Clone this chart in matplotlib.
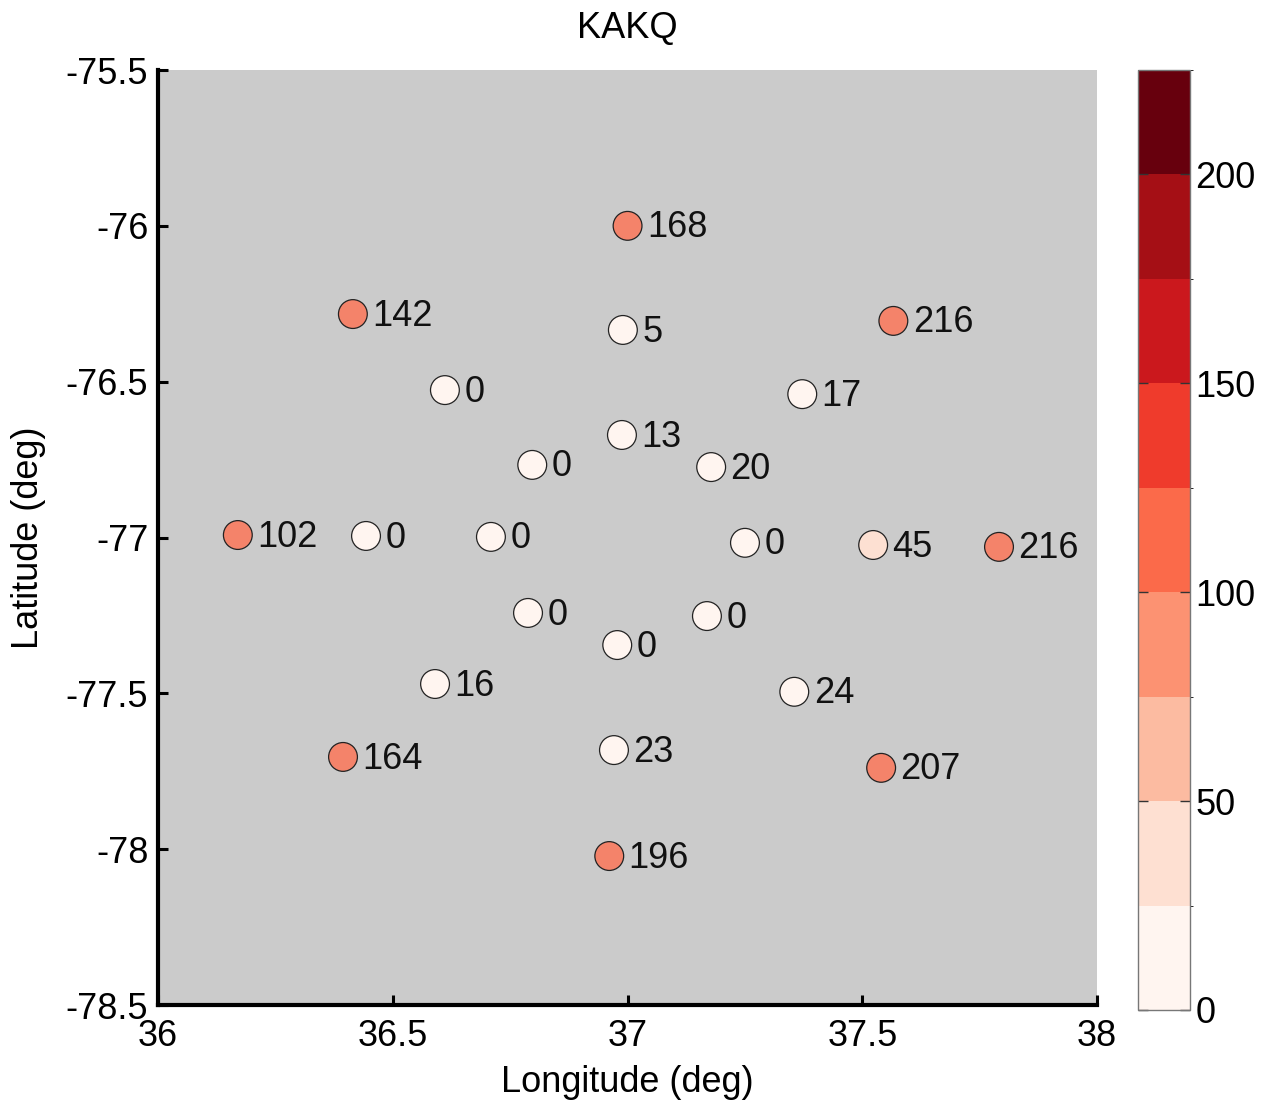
import numpy as np
import matplotlib
matplotlib.use('Agg')
from matplotlib import pyplot as plt
from matplotlib.colors import ListedColormap, BoundaryNorm
from matplotlib.cm import ScalarMappable

# station positions (deg) and counts
lon = [37.00, 36.415, 36.99, 37.566, 36.611, 37.372, 36.988, 36.797, 37.178, 36.170, 36.443, 36.709,
       37.250, 37.523, 37.791, 36.788, 37.169, 36.978, 36.590, 37.355, 36.394, 36.971, 37.540, 36.961]
lat = [-76.00, -76.283, -76.334, -76.305, -76.527, -76.540, -76.671, -76.767, -76.774, -76.992, -76.995, -76.998,
       -77.017, -77.024, -77.030, -77.242, -77.252, -77.345, -77.470, -77.495, -77.704, -77.682, -77.739, -78.022]
counts = [168, 142, 5, 216, 0, 17, 13, 0, 20, 102, 0, 0,
          0, 45, 216, 0, 0, 0, 16, 24, 164, 23, 207, 196]

cbar_levels = np.arange(0, 226, 25)
cbar_ticks = [0, 50, 100, 150, 200]
x_ticks = [36, 36.5, 37, 37.5, 38]
y_ticks = [-78.5, -78, -77.5, -77, -76.5, -76, -75.5]

# markers use their own (coarser) colouring
marker_bounds = [0, 25, 50, 100, 250]
marker_colors = ['#fff5f0', '#fde0d2', '#fcbba1', '#f4836a']

plt.rcParams['font.family'] = ['Liberation Sans', 'DejaVu Sans']
FS = 26

fig = plt.figure(figsize=(12.64, 11.06), dpi=100)
ax = fig.add_axes([0.125, 0.0913, 0.743, 0.8454])
ax.set_facecolor('#cbcbcb')

mcmap = ListedColormap(marker_colors)
mnorm = BoundaryNorm(marker_bounds, mcmap.N)
ax.scatter(lon, lat, c=counts, cmap=mcmap, norm=mnorm, s=430,
           edgecolors='#222222', linewidths=0.9, zorder=3)
for x, y, n in zip(lon, lat, counts):
    ax.annotate(str(n), (x, y), xytext=(14, -1.5), textcoords='offset points',
                va='center', ha='left', fontsize=FS, color='#111111', zorder=4)

ax.set_xlim(36, 38)
ax.set_ylim(-78.5, -75.5)
ax.set_xticks(x_ticks)
ax.set_xticklabels(['36', '36.5', '37', '37.5', '38'])
ax.set_yticks(y_ticks)
ax.set_yticklabels(['-78.5', '-78', '-77.5', '-77', '-76.5', '-76', '-75.5'])
ax.tick_params(direction='in', length=7, width=2.2, labelsize=FS)
ax.tick_params(axis='x', pad=10)
ax.tick_params(axis='y', pad=7)
for side in ('top', 'right'):
    ax.spines[side].set_visible(False)
for side in ('left', 'bottom'):
    ax.spines[side].set_linewidth(3)
ax.set_xlabel('Longitude (deg)', fontsize=FS, labelpad=8)
ax.set_ylabel('Latitude (deg)', fontsize=FS, labelpad=14)
ax.set_title('KAKQ', fontsize=FS, pad=23)

# discrete colorbar
cax = fig.add_axes([0.9003, 0.0868, 0.0411, 0.85])
ccmap = plt.get_cmap('Reds').resampled(len(cbar_levels) - 1)
cnorm = BoundaryNorm(cbar_levels, ccmap.N)
cb = fig.colorbar(ScalarMappable(norm=cnorm, cmap=ccmap), cax=cax, ticks=cbar_ticks)
cb.outline.set_edgecolor('#777777')
cb.outline.set_linewidth(1)
cax.tick_params(direction='in', length=7, width=1, left=True, right=True,
                labelsize=FS, color='#333333', pad=4)

fig.savefig('out.png', dpi=100)
